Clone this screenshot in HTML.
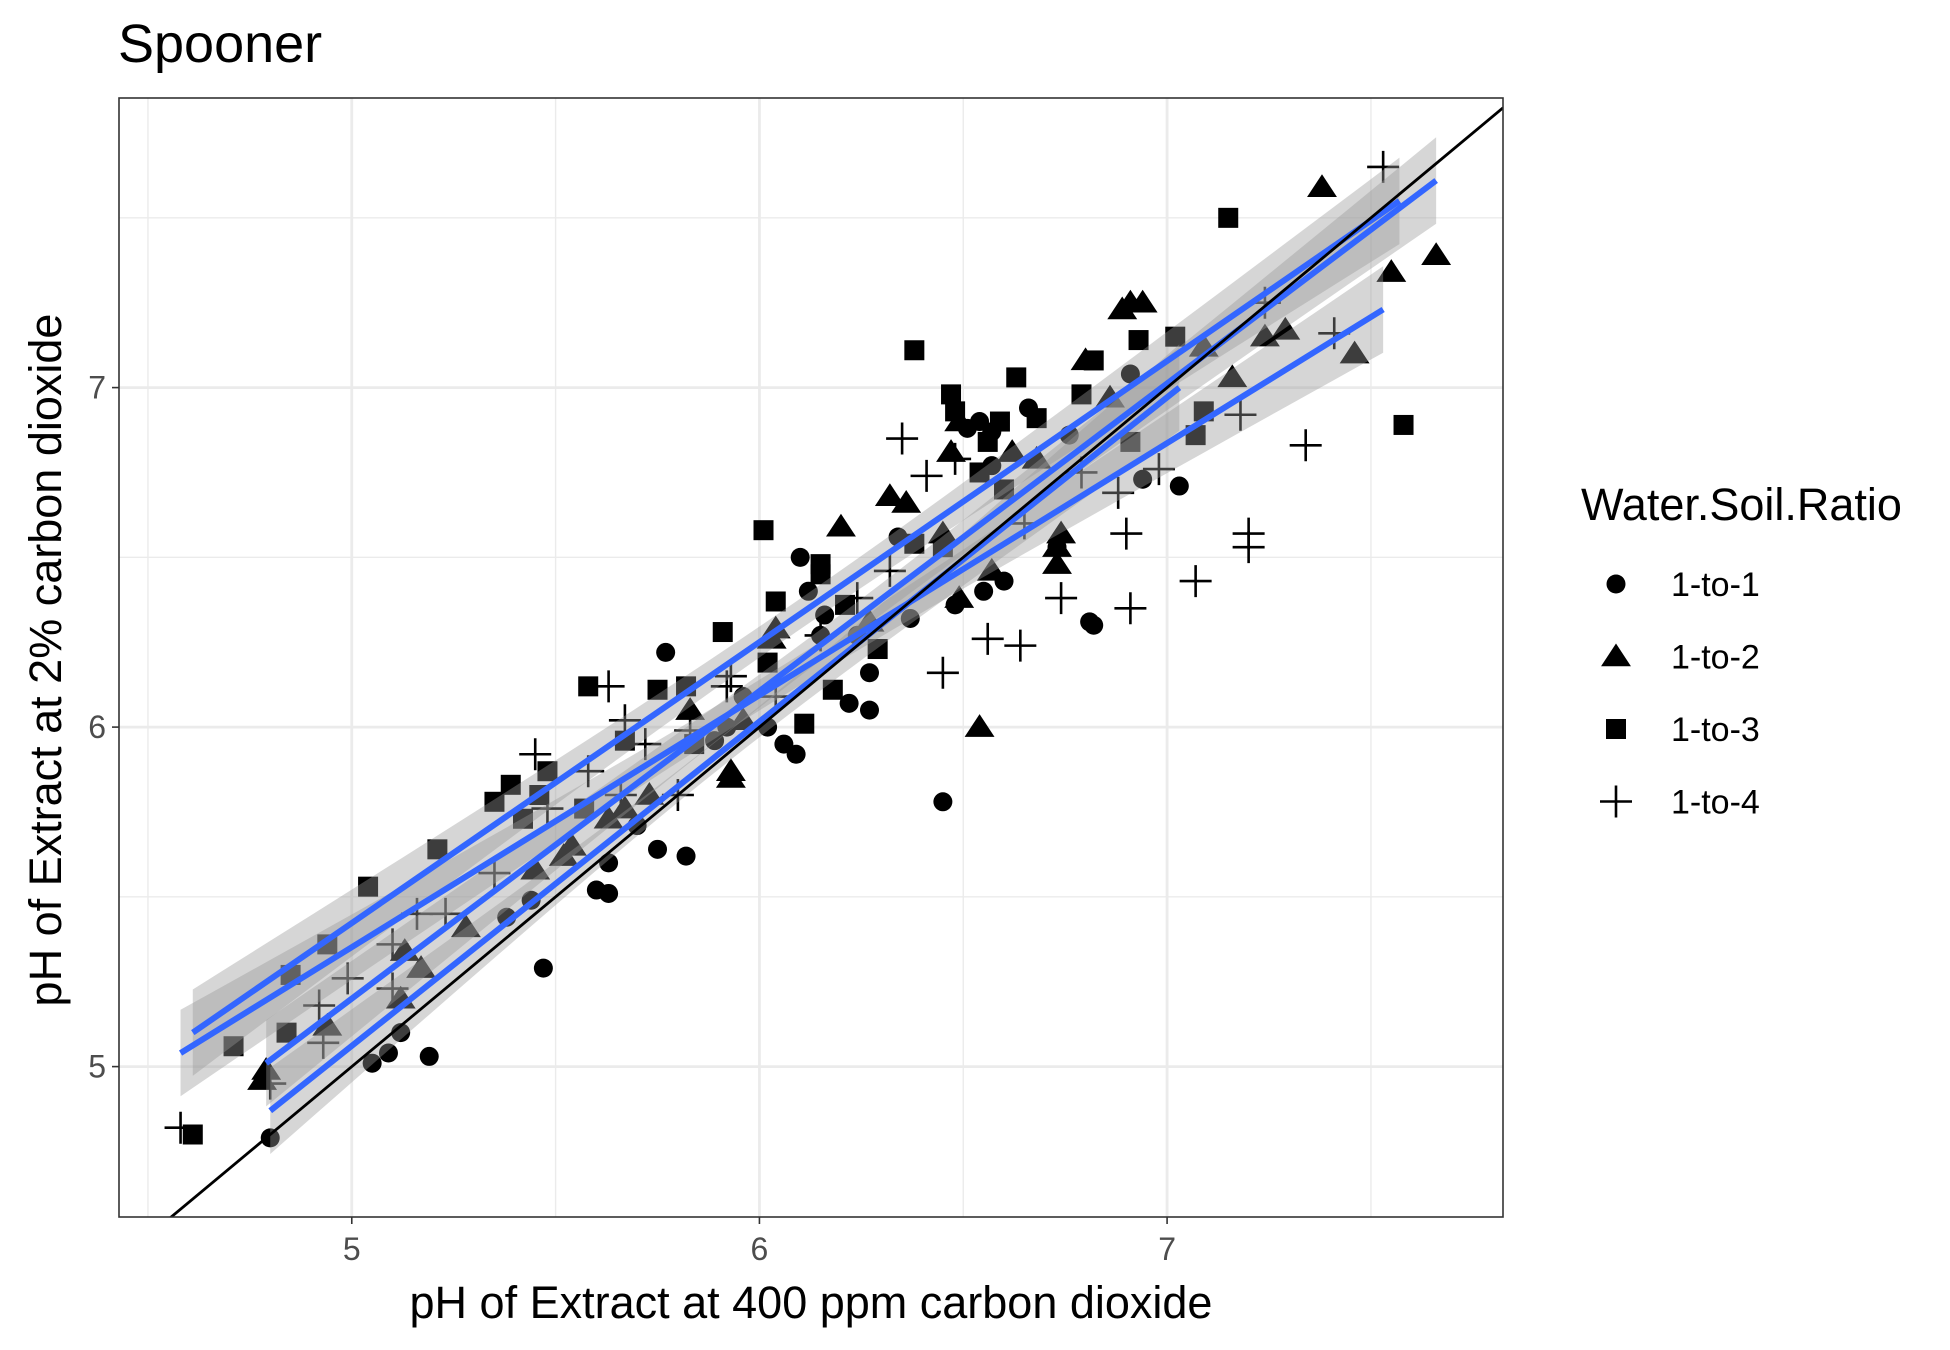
<!DOCTYPE html>
<html><head><meta charset="utf-8"><style>
html,body{margin:0;padding:0;background:#fff;}
svg{display:block;font-family:"Liberation Sans",Arial,sans-serif;}
</style></head><body>
<svg id="chart" width="1950" height="1350" viewBox="0 0 1950 1350"></svg>
<script>
const xTicks=[5,6,7];
const yTicks=[5,6,7];
const seriesNames=["1-to-1","1-to-2","1-to-3","1-to-4"];
const s1x=[4.80,5.05,5.09,5.12,5.19,5.47,5.38,5.44,5.60,5.63,5.63,5.75,5.82,5.70,5.77,5.96,6.06,6.09,6.10,6.12,6.15,6.16,6.22,6.27,6.27,6.37,6.34,6.45,6.48,6.55,6.60,6.51,6.54,6.57,6.66,6.73,6.81,6.82,6.91,6.94,7.03,6.76,5.92,6.24,6.02,5.89,6.57];
const s1y=[4.79,5.01,5.04,5.10,5.03,5.29,5.44,5.49,5.52,5.51,5.60,5.64,5.62,5.71,6.22,6.09,5.95,5.92,6.50,6.40,6.27,6.33,6.07,6.16,6.05,6.32,6.56,5.78,6.36,6.40,6.43,6.88,6.90,6.87,6.94,6.53,6.31,6.30,7.04,6.73,6.71,6.86,6.00,6.27,6.00,5.96,6.77];
const s2x=[4.78,4.79,4.94,5.12,5.17,5.28,5.13,5.45,5.52,5.54,5.63,5.67,5.73,5.83,5.93,5.93,5.96,6.03,6.04,6.20,6.32,6.36,6.45,6.47,6.49,6.49,6.54,6.57,6.62,6.68,6.73,6.74,6.80,6.86,6.89,6.91,6.94,7.09,7.16,7.24,7.29,7.38,7.46,7.55,7.66,6.73,6.27];
const s2y=[4.96,4.99,5.12,5.20,5.29,5.41,5.34,5.58,5.62,5.65,5.73,5.76,5.80,6.05,5.85,5.87,6.02,6.26,6.29,6.59,6.68,6.66,6.57,6.81,6.90,6.38,6.00,6.46,6.81,6.79,6.53,6.57,7.08,6.97,7.23,7.25,7.25,7.12,7.03,7.15,7.17,7.59,7.10,7.34,7.39,6.48,6.31];
const s3x=[4.61,4.71,4.84,4.85,4.94,5.04,5.21,5.35,5.39,5.42,5.48,5.58,5.57,5.67,5.75,5.82,5.91,6.01,6.02,6.04,6.11,6.15,6.15,6.18,6.21,6.29,6.38,6.38,6.45,6.47,6.48,6.54,6.56,6.59,6.60,6.63,6.68,6.79,6.82,6.91,6.93,7.02,7.07,7.09,7.15,7.58,5.46,5.84];
const s3y=[4.80,5.06,5.10,5.27,5.36,5.53,5.64,5.78,5.83,5.73,5.87,6.12,5.76,5.96,6.11,6.12,6.28,6.58,6.19,6.37,6.01,6.48,6.45,6.11,6.36,6.23,7.11,6.54,6.53,6.98,6.93,6.75,6.84,6.90,6.70,7.03,6.91,6.98,7.08,6.84,7.14,7.15,6.86,6.93,7.50,6.89,5.80,5.95];
const s4x=[4.58,4.80,4.93,4.92,4.99,5.10,5.10,5.16,5.23,5.35,5.45,5.48,5.58,5.63,5.66,5.67,5.72,5.80,5.92,5.93,6.15,6.24,6.32,6.35,6.41,6.45,6.48,6.56,6.64,6.65,6.74,6.79,6.88,6.90,6.91,6.98,7.07,7.18,7.20,7.20,7.24,7.34,7.41,7.53,5.83,6.04];
const s4y=[4.82,4.95,5.07,5.18,5.26,5.36,5.23,5.45,5.45,5.57,5.92,5.76,5.87,6.12,5.80,6.02,5.95,5.80,6.12,6.15,6.27,6.38,6.46,6.85,6.74,6.16,6.79,6.26,6.24,6.60,6.38,6.75,6.69,6.57,6.35,6.76,6.43,6.92,6.53,6.57,7.25,6.83,7.16,7.65,5.99,6.09];
const fitStartX=[4.80,4.79,4.61,4.58];
const fitEndX=[7.03,7.66,7.57,7.53];
const fitStartY=[4.87,5.01,5.10,5.04];
const fitEndY=[7.00,7.61,7.55,7.23];
</script>
<script>
const NS="http://www.w3.org/2000/svg";
const svg=document.getElementById('chart');
const L=119,R=1503,T=98,B=1217;
const X0=4.429,X1=7.824,Y0=4.557,Y1=7.853;
function sx(v){return L+(v-X0)/(X1-X0)*(R-L);}
function sy(v){return B-(v-Y0)/(Y1-Y0)*(B-T);}
function el(tag,attrs,parent){const e=document.createElementNS(NS,tag);for(const k in attrs)e.setAttribute(k,attrs[k]);(parent||svg).appendChild(e);return e;}

const defs=el('defs',{});
const cp=el('clipPath',{id:'clip'},defs);
el('rect',{x:L,y:T,width:R-L,height:B-T},cp);

const grid=el('g',{});


[4.5,5.5,6.5,7.5].forEach(v=>{
  el('line',{x1:sx(v),x2:sx(v),y1:T,y2:B,stroke:'#ebebeb','stroke-width':1.4},grid);
  if(v>Y0&&v<Y1) el('line',{x1:L,x2:R,y1:sy(v),y2:sy(v),stroke:'#ebebeb','stroke-width':1.4},grid);
});
xTicks.forEach(v=>el('line',{x1:sx(v),x2:sx(v),y1:T,y2:B,stroke:'#ebebeb','stroke-width':2.8},grid));
yTicks.forEach(v=>el('line',{x1:L,x2:R,y1:sy(v),y2:sy(v),stroke:'#ebebeb','stroke-width':2.8},grid));

const plot=el('g',{'clip-path':'url(#clip)'});



function marker(shape,cx,cy,parent){
  let m;
  if(shape===0){m=el('circle',{cx:cx,cy:cy,r:9.5,fill:'#000'},parent);}
  else if(shape===1){const h=13;m=el('polygon',{points:`${cx},${cy-h} ${cx-h*1.15},${cy+h*0.75} ${cx+h*1.15},${cy+h*0.75}`,fill:'#000'},parent);}
  else if(shape===2){m=el('rect',{x:cx-10,y:cy-10,width:20,height:20,fill:'#000'},parent);}
  else {m=el('path',{d:`M${cx-16},${cy}H${cx+16}M${cx},${cy-16}V${cy+16}`,stroke:'#000','stroke-width':2.6,fill:'none'},parent);}
  return m;
}
const allX=[s1x,s2x,s3x,s4x], allY=[s1y,s2y,s3y,s4y];
allX.forEach((xs,si)=>{
  const g=el('g',{},plot);
  
  
  xs.forEach((x,i)=>{
    const m=marker(si,sx(x),sy(allY[si][i]),g);
    
    
  });
});

fitStartX.forEach((x0,i)=>{
  const x1=fitEndX[i],y0=fitStartY[i],y1=fitEndY[i];
  const xm=(x0+x1)/2, hw=(x1-x0)/2;
  const up=[],dn=[];
  for(let k=0;k<=40;k++){
    const x=x0+(x1-x0)*k/40;
    const y=y0+(y1-y0)*(x-x0)/(x1-x0);
    const t=(x-xm)/hw;
    const se=0.045*Math.sqrt(1+7*t*t);
    up.push(sx(x)+','+sy(y+se));
    dn.unshift(sx(x)+','+sy(y-se));
  }
  const r=el('polygon',{points:up.concat(dn).join(' '),fill:'#999999','fill-opacity':0.4},plot);
  
  
});
fitStartX.forEach((x0,i)=>{
  const l=el('line',{x1:sx(x0),y1:sy(fitStartY[i]),x2:sx(fitEndX[i]),y2:sy(fitEndY[i]),stroke:'#3366FF','stroke-width':6},plot);
  
  
});
const id=el('line',{x1:sx(X0),y1:sy(X0),x2:sx(X1),y2:sy(X1),stroke:'#000','stroke-width':2.8},plot);



const border=el('rect',{x:L,y:T,width:R-L,height:B-T,fill:'none',stroke:'#333','stroke-width':1.6});



xTicks.forEach(v=>{
  el('line',{x1:sx(v),x2:sx(v),y1:B,y2:B+7,stroke:'#333','stroke-width':1.6});
  const t=el('text',{x:sx(v),y:B+43,'text-anchor':'middle','font-size':32,fill:'#4d4d4d'});
  t.textContent=v;
  
  
});
yTicks.forEach(v=>{
  el('line',{x1:L-7,x2:L,y1:sy(v),y2:sy(v),stroke:'#333','stroke-width':1.6});
  const t=el('text',{x:L-13,y:sy(v)+11,'text-anchor':'end','font-size':32,fill:'#4d4d4d'});
  t.textContent=v;
  
  
});

const lg=el('g',{});


const lt=el('text',{x:1581,y:520,'font-size':45,fill:'#000'},lg);
lt.textContent='Water.Soil.Ratio';


seriesNames.forEach((n,i)=>{
  const cy=584+i*72.5;
  const g=el('g',{},lg);
  
  
  marker(i,1616,cy,g);
  const t=el('text',{x:1671,y:cy+12,'font-size':34,fill:'#000'},g);
  t.textContent=n;
});
</script>
<div style="position:absolute;left:0;top:0;width:1950px;height:1350px;pointer-events:none;">
<svg width="1950" height="1350" style="position:absolute;left:0;top:0;font-family:'Liberation Sans',Arial,sans-serif;">
<text x="118" y="62" font-size="54" fill="#000">Spooner</text>
<text x="811" y="1318" font-size="45" fill="#000" text-anchor="middle">pH of Extract at 400 ppm carbon dioxide</text>
<text x="0" y="0" font-size="45" fill="#000" text-anchor="middle" transform="translate(61,660) rotate(-90)">pH of Extract at 2% carbon dioxide</text>
</svg>
</div>
</body></html>
